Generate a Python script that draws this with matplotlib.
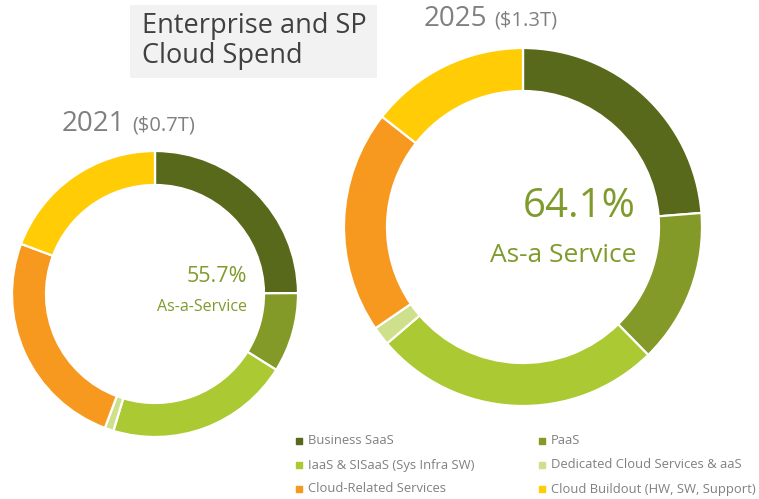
import matplotlib.pyplot as plt
from matplotlib.patches import Rectangle

categories = ["Business SaaS", "PaaS", "IaaS & SISaaS (Sys Infra SW)",
              "Dedicated Cloud Services & aaS", "Cloud-Related Services",
              "Cloud Buildout (HW, SW, Support)"]
share_2021 = [24.9, 9.0, 20.8, 1.0, 25.0, 19.3]
share_2025 = [23.7, 13.9, 26.0, 1.7, 20.1, 14.4]
colors = ["#58691B", "#839A28", "#AAC932", "#CFE08C", "#F7981F", "#FFCC06"]

W, H = 759, 499
GREEN = "#7F9B2C"
GREY = "#808080"


def py(y):
    # pixel row from top -> data y
    return H - y


def main():
    plt.rcParams['font.family'] = ['Open Sans', 'DejaVu Sans']
    fig = plt.figure(figsize=(W / 100, H / 100), dpi=100)
    ax = fig.add_axes([0, 0, 1, 1])

    wp = dict(edgecolor="white", linewidth=1.6)
    ax.pie(share_2021, colors=colors, startangle=90, counterclock=False,
           center=(155, py(294)), radius=143,
           wedgeprops=dict(width=34, **wp))
    ax.pie(share_2025, colors=colors, startangle=90, counterclock=False,
           center=(523, py(227)), radius=179,
           wedgeprops=dict(width=43, **wp))

    ax.set_xlim(0, W)
    ax.set_ylim(0, H)
    ax.set_aspect('equal')
    ax.axis('off')

    # title box
    ax.add_patch(Rectangle((130, py(78)), 247, 73, facecolor="#F2F2F2",
                           edgecolor="none", zorder=0))
    ax.text(142, py(41), "Enterprise and SP\nCloud Spend", fontsize=19.5,
            color="#404040", va="center", ha="left", linespacing=1.05)

    # year headers
    ax.text(62, py(124), "2021", fontsize=20, color=GREY, va="center")
    ax.text(132, py(125), "($0.7T)", fontsize=14.5, color=GREY, va="center")
    ax.text(424, py(19), "2025", fontsize=20, color=GREY, va="center")
    ax.text(494, py(20), "($1.3T)", fontsize=14.5, color=GREY, va="center")

    # centre labels
    ax.text(247, py(276), "55.7%", fontsize=15.5, color=GREEN,
            ha="right", va="center")
    ax.text(247, py(307), "As-a-Service", fontsize=11.5, color=GREEN,
            ha="right", va="center")
    ax.text(636, py(207), "64.1%", fontsize=29, color=GREEN,
            ha="right", va="center")
    ax.text(636, py(255), "As-a Service", fontsize=19, color=GREEN,
            ha="right", va="center")

    # legend
    for i, (lab, c) in enumerate(zip(categories, colors)):
        x0 = 299 if i % 2 == 0 else 542
        y0 = py(441 + 24 * (i // 2))
        ax.scatter([x0], [y0], marker="s", s=22, color=c)
        ax.text(x0 + 9, y0, lab, fontsize=9.4, color=GREY, va="center")

    fig.savefig("out.png", dpi=100)


if __name__ == "__main__":
    main()
